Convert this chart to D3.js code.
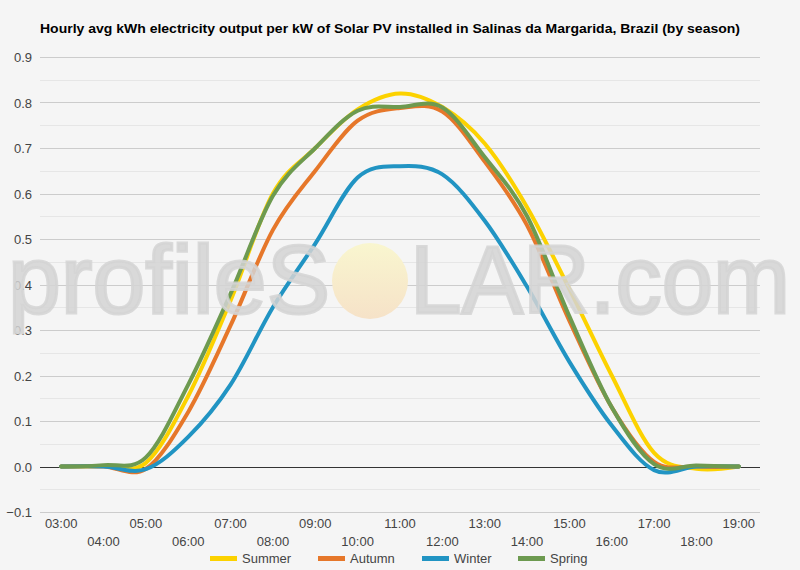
<!DOCTYPE html>
<html>
<head>
<meta charset="utf-8">
<script src="https://cdnjs.cloudflare.com/ajax/libs/d3/7.8.5/d3.min.js"></script>
<style>
  body { margin: 0; background: #f5f5f5; }
  svg { display: block; font-family: Arial, "Liberation Sans", sans-serif; }
</style>
</head>
<body>
<div id="chart"></div>
<script>
const hours = ["03:00", "04:00", "05:00", "06:00", "07:00", "08:00", "09:00", "10:00", "11:00",
  "12:00", "13:00", "14:00", "15:00", "16:00", "17:00", "18:00", "19:00"];
const summer = [0, 0.001, 0.008, 0.155, 0.365, 0.60, 0.70, 0.785, 0.82, 0.79, 0.71, 0.57, 0.39, 0.20, 0.03, -0.005, 0];
const autumn = [0, 0, -0.005, 0.12, 0.31, 0.52, 0.65, 0.76, 0.788, 0.78, 0.67, 0.53, 0.32, 0.13, 0.01, 0, 0];
const winter = [0, 0, -0.006, 0.065, 0.18, 0.35, 0.49, 0.635, 0.66, 0.642, 0.54, 0.395, 0.23, 0.09, -0.008, 0, 0];
const spring = [0, 0.003, 0.02, 0.18, 0.38, 0.595, 0.70, 0.782, 0.79, 0.789, 0.68, 0.55, 0.33, 0.13, 0.005, 0.002, 0];
const seriesNames = ["Summer", "Autumn", "Winter", "Spring"];
const yTicks = [-0.1, 0, 0.1, 0.2, 0.3, 0.4, 0.5, 0.6, 0.7, 0.8, 0.9];

const series = [
  { name: "Summer", values: summer, color: "#fcd200" },
  { name: "Autumn", values: autumn, color: "#e6772a" },
  { name: "Winter", values: winter, color: "#2194c3" },
  { name: "Spring", values: spring, color: "#6d9a50" }
];

const W = 800, H = 570;
const margin = { top: 57, right: 40, bottom: 58, left: 40 };
const width = W - margin.left - margin.right;
const height = H - margin.top - margin.bottom;

const svg = d3.select("#chart").append("svg")
  .attr("width", W)
  .attr("height", H);

svg.append("rect").attr("width", W).attr("height", H).attr("fill", "#f5f5f5");

// Title
svg.append("text")
  .attr("x", 40)
  .attr("y", 33)
  .attr("textLength", 700)
  .attr("lengthAdjust", "spacingAndGlyphs")
  .style("font-size", "13.5px")
  .style("font-weight", "bold")
  .attr("fill", "#000")
  .text("Hourly avg kWh electricity output per kW of Solar PV installed in Salinas da Margarida, Brazil (by season)");

const g = svg.append("g").attr("transform", `translate(${margin.left},${margin.top})`);

const x = d3.scalePoint().domain(hours).range([0, width]).padding(0.5);
const y = d3.scaleLinear().domain([-0.1, 0.9]).range([height, 0]);

// Minor gridlines
const minor = d3.range(-0.05, 0.9, 0.1);
g.selectAll(".minor").data(minor).join("line")
  .attr("x1", 0).attr("x2", width)
  .attr("y1", d => Math.round(y(d)) + 0.5).attr("y2", d => Math.round(y(d)) + 0.5)
  .attr("stroke", "#e6e6e6");

// Major gridlines
g.selectAll(".major").data(yTicks.filter(d => d !== 0)).join("line")
  .attr("x1", 0).attr("x2", width)
  .attr("y1", d => Math.round(y(d)) + 0.5).attr("y2", d => Math.round(y(d)) + 0.5)
  .attr("stroke", "#cccccc");

// Y labels
g.selectAll(".ylab").data(yTicks).join("text")
  .attr("x", -8)
  .attr("y", d => y(d) + 5)
  .attr("text-anchor", "end")
  .style("font-size", "13px")
  .attr("fill", "#444")
  .text(d => d3.format(".1f")(d));

// Watermark
const wm = svg.append("g");
const sun = svg.append("defs").append("linearGradient")
  .attr("id", "sun").attr("x1", 0).attr("y1", 0).attr("x2", 0).attr("y2", 1);
sun.append("stop").attr("offset", "0%").attr("stop-color", "#f9f6cf");
sun.append("stop").attr("offset", "100%").attr("stop-color", "#f6e2c8");
wm.append("circle").attr("cx", 370).attr("cy", 281).attr("r", 38).attr("fill", "url(#sun)");
wm.selectAll(".wmtext").data([
  { t: "profileS", x: 8, len: 322 },
  { t: "LAR.com", x: 410, len: 380 }
]).join("text")
  .attr("x", d => d.x).attr("y", 313)
  .attr("textLength", d => d.len).attr("lengthAdjust", "spacingAndGlyphs")
  .style("font-size", "96px")
  .attr("fill", "#d4d4d4")
  .attr("stroke", "#d4d4d4")
  .attr("stroke-width", 3)
  .attr("fill-opacity", 0.85)
  .attr("stroke-opacity", 0.85)
  .text(d => d.t);

// Zero line
g.append("line")
  .attr("x1", 0).attr("x2", width)
  .attr("y1", Math.round(y(0)) + 0.5).attr("y2", Math.round(y(0)) + 0.5)
  .attr("stroke", "#333");

// X labels, staggered in two rows
g.selectAll(".xlab").data(hours).join("text")
  .attr("x", d => x(d))
  .attr("y", (d, i) => height + (i % 2 === 0 ? 16 : 34))
  .attr("text-anchor", "middle")
  .style("font-size", "13px")
  .attr("fill", "#444")
  .text(d => d);

// Lines
const line = d3.line()
  .x((d, i) => x(hours[i]))
  .y(d => y(d))
  .curve(d3.curveCardinal.tension(0));

g.selectAll(".series").data(series).join("path")
  .attr("fill", "none")
  .attr("stroke", d => d.color)
  .attr("stroke-width", 4)
  .attr("stroke-linejoin", "round")
  .attr("stroke-linecap", "round")
  .attr("d", d => line(d.values));

// Legend
const legendX = [210, 318, 422, 518];
const legend = svg.append("g");
series.forEach((s, i) => {
  legend.append("rect")
    .attr("x", legendX[i]).attr("y", 556)
    .attr("width", 27).attr("height", 5)
    .attr("fill", s.color);
  legend.append("text")
    .attr("x", legendX[i] + 32).attr("y", 563)
    .style("font-size", "13px")
    .attr("fill", "#444")
    .text(seriesNames[i]);
});
</script>
</body>
</html>
